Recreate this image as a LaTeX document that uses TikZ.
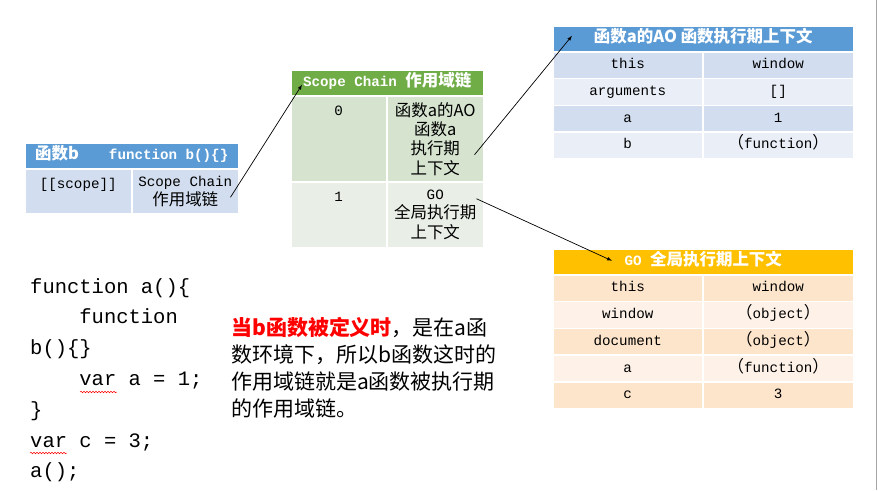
\documentclass[tikz,border=0pt]{standalone}
\usepackage{fontspec}
\usetikzlibrary{positioning,decorations.pathmorphing}
\newfontfamily\cellmono{Liberation Mono}
\newfontfamily\zh[Scale=1.16]{Noto Sans CJK SC}
\definecolor{blueH}{HTML}{5B9BD5}
\definecolor{blueA}{HTML}{D2DEEF}
\definecolor{blueB}{HTML}{EAEFF7}
\definecolor{greenH}{HTML}{70AD47}
\definecolor{greenA}{HTML}{D5E3CF}
\definecolor{greenB}{HTML}{E9EFE6}
\definecolor{goldH}{HTML}{FFC000}
\definecolor{peachA}{HTML}{FDE5CC}
\definecolor{peachB}{HTML}{FEF2E8}
\newcommand\cellfont{\cellmono\fontsize{14.2pt}{19.3pt}\selectfont}
\newcommand\headfont{\cellmono\bfseries\fontsize{14.2pt}{18pt}\selectfont}
\newcommand\codefont{\cellmono\fontsize{20.5pt}{30.8pt}\selectfont}
\newcommand\notefont{\zh\fontsize{18.1pt}{27pt}\selectfont}
\begin{document}
\begin{tikzpicture}[x=1pt, y=-1pt,
    cellbox/.style={rectangle, draw=white, line width=1.5pt, inner sep=0pt, anchor=north west, align=center, font=\cellfont},
    rowbox/.style={cellbox, text height=10pt, text depth=3pt},
    headbox/.style={cellbox, text=white, font=\headfont, text height=11pt, text depth=4pt},
    arrow/.style={-latex, line width=0.7pt}]
   \useasboundingbox (0,0) rectangle (878,490);
   % table of function b
   \node[headbox, fill=blueH, minimum width=214pt, minimum height=26pt] (bh) at (24,142) {{\zh 函数b}\hspace{30pt}function b()\{\}};
   \node[cellbox, fill=blueA, minimum width=107pt, minimum height=45pt, text height=20pt, text depth=25pt] (b1) at (24,168) {[[scope]]};
   \node[cellbox, fill=blueA, minimum width=107pt, minimum height=45pt] (b2) at (131,168) {Scope Chain\\{\zh 作用域链}};
   % scope chain
   \node[headbox, fill=greenH, minimum width=193pt, minimum height=26pt] (sh) at (290,69) {Scope Chain {\zh 作用域链}};
   \node[cellbox, fill=greenA, minimum width=96pt, minimum height=86pt, text height=20pt, text depth=66pt] (s0) at (290,95) {0};
   \node[cellbox, fill=greenA, minimum width=97pt, minimum height=86pt] (s0t) at (386,95) {{\zh 函数a的AO}\\{\zh 函数a}\\{\zh 执行期}\\{\zh 上下文}};
   \node[cellbox, fill=greenB, minimum width=96pt, minimum height=66pt, text height=20pt, text depth=46pt] (s1) at (290,181) {1};
   \node[cellbox, fill=greenB, minimum width=97pt, minimum height=66pt] (s1t) at (386,181) {GO\\{\zh 全局执行期}\\{\zh 上下文}};
   % AO of a
   \node[headbox, fill=blueH, minimum width=301pt, minimum height=26pt] (ah) at (552,25) {\zh 函数a的AO 函数执行期上下文};
   \node[rowbox, fill=blueA, minimum width=150pt, minimum height=26.75pt] (a1l) at (552,51) {this};
   \node[rowbox, fill=blueA, minimum width=151pt, minimum height=26.75pt] (a1r) at (702,51) {window};
   \node[rowbox, fill=blueB, minimum width=150pt, minimum height=26.75pt] (a2l) at (552,77.75) {arguments};
   \node[rowbox, fill=blueB, minimum width=151pt, minimum height=26.75pt] (a2r) at (702,77.75) {[]};
   \node[rowbox, fill=blueA, minimum width=150pt, minimum height=26.75pt] (a3l) at (552,104.5) {a};
   \node[rowbox, fill=blueA, minimum width=151pt, minimum height=26.75pt] (a3r) at (702,104.5) {1};
   \node[rowbox, fill=blueB, minimum width=150pt, minimum height=26.75pt] (a4l) at (552,131.25) {b};
   \node[rowbox, fill=blueB, minimum width=151pt, minimum height=26.75pt] (a4r) at (702,131.25) {{\zh （}function{\zh ）}};
   % GO
   \node[headbox, fill=goldH, minimum width=301pt, minimum height=26pt] (gh) at (552,248) {GO {\zh 全局执行期上下文}};
   \node[rowbox, fill=peachA, minimum width=150pt, minimum height=26.8pt] (g1l) at (552,274) {this};
   \node[rowbox, fill=peachA, minimum width=151pt, minimum height=26.8pt] (g1r) at (702,274) {window};
   \node[rowbox, fill=peachB, minimum width=150pt, minimum height=26.8pt] (g2l) at (552,300.8) {window};
   \node[rowbox, fill=peachB, minimum width=151pt, minimum height=26.8pt] (g2r) at (702,300.8) {{\zh （}object{\zh ）}};
   \node[rowbox, fill=peachA, minimum width=150pt, minimum height=26.8pt] (g3l) at (552,327.6) {document};
   \node[rowbox, fill=peachA, minimum width=151pt, minimum height=26.8pt] (g3r) at (702,327.6) {{\zh （}object{\zh ）}};
   \node[rowbox, fill=peachB, minimum width=150pt, minimum height=26.8pt] (g4l) at (552,354.4) {a};
   \node[rowbox, fill=peachB, minimum width=151pt, minimum height=26.8pt] (g4r) at (702,354.4) {{\zh （}function{\zh ）}};
   \node[rowbox, fill=peachA, minimum width=150pt, minimum height=26.8pt] (g5l) at (552,381.2) {c};
   \node[rowbox, fill=peachA, minimum width=151pt, minimum height=26.8pt] (g5r) at (702,381.2) {3};
   % code and note
   \node[anchor=north west, inner sep=0pt, align=left, font=\codefont] (code) at (30,278)
      {function a()\{\\\phantom{xxxx}function\\b()\{\}\\\phantom{xxxx}var a = 1;\\\}\\var c = 3;\\a();};
   \node[anchor=north west, inner sep=0pt, align=left, font=\notefont] (note) at (231,317)
      {{\color{red}\bfseries 当b函数被定义时}，是在a函\\数环境下，所以b函数这时的\\作用域链就是a函数被执行期\\的作用域链。};
   \draw[red, line width=0.5pt, decorate, decoration={snake, amplitude=0.8pt, segment length=3pt}] (80,392) -- (117,392);
   \draw[red, line width=0.5pt, decorate, decoration={snake, amplitude=0.8pt, segment length=3pt}] (30,453) -- (67,453);
   % arrows
   \draw[arrow] ([shift={(-9,6)}]b2.east) -- ([shift={(12,2)}]sh.west);
   \draw[arrow] ([shift={(-10,16)}]s0t.east) -- ([shift={(20,-3)}]ah.west);
   \draw[arrow] ([shift={(-8,-16)}]s1t.east) -- ([shift={(60,-1)}]gh.west);
   \draw[black!35, line width=1.5pt] (876.5,0) -- (876.5,490);
 \end{tikzpicture}
\end{document}
